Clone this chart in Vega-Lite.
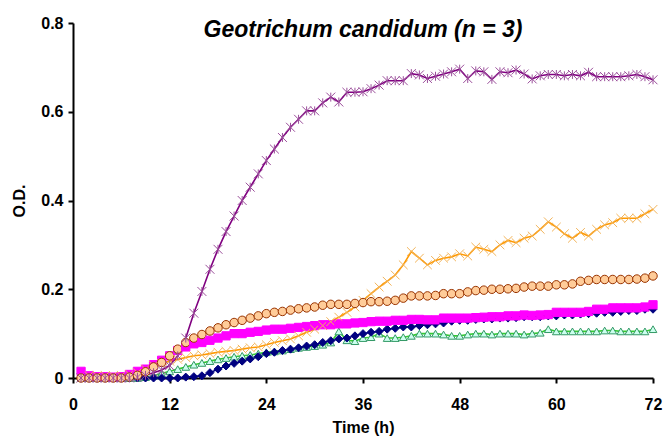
{
  "$schema": "https://vega.github.io/schema/vega-lite/v6.json",
  "width": 580,
  "height": 355,
  "autosize": {"type": "none"},
  "padding": {"left": 73, "top": 23, "right": 16, "bottom": 59},
  "background": "white",
  "title": {
    "text": "Geotrichum candidum  (n = 3)",
    "font": "Liberation Sans",
    "fontSize": 23,
    "fontWeight": "bold",
    "fontStyle": "italic",
    "color": "black",
    "anchor": "middle",
    "frame": "group",
    "baseline": "alphabetic",
    "offset": -14,
    "dy": 31
  },
  "config": {
    "view": {"stroke": null},
    "axis": {
      "grid": false,
      "domainColor": "black",
      "domainWidth": 2,
      "tickColor": "black",
      "tickWidth": 2,
      "tickSize": 5,
      "labelFont": "Liberation Sans",
      "labelFontWeight": "bold",
      "labelFontSize": 16,
      "labelColor": "black",
      "titleFont": "Liberation Sans",
      "titleFontWeight": "bold",
      "titleFontSize": 16,
      "titleColor": "black"
    }
  },
  "data": {
    "values": [
      {"t":1,"P":0.0,"O":0.0,"B":0.0,"M":0.015,"N":0.0,"G":0.0},
      {"t":2,"P":0.0,"O":0.005,"B":0.0,"M":0.005,"N":0.0,"G":0.0},
      {"t":3,"P":0.0,"O":0.005,"B":0.0,"M":0.003,"N":0.0,"G":0.0},
      {"t":4,"P":0.0,"O":0.005,"B":0.0,"M":0.003,"N":0.0,"G":0.0},
      {"t":5,"P":0.0,"O":0.005,"B":0.0,"M":0.002,"N":0.0,"G":0.0},
      {"t":6,"P":0.0,"O":0.005,"B":0.0,"M":0.003,"N":0.0,"G":0.0},
      {"t":7,"P":0.0,"O":0.008,"B":0.002,"M":0.008,"N":0.0,"G":0.0},
      {"t":8,"P":0.002,"O":0.012,"B":0.006,"M":0.015,"N":0.0,"G":0.0},
      {"t":9,"P":0.006,"O":0.02,"B":0.014,"M":0.02,"N":0.0,"G":0.002},
      {"t":10,"P":0.012,"O":0.028,"B":0.025,"M":0.03,"N":0.0,"G":0.005},
      {"t":11,"P":0.018,"O":0.033,"B":0.035,"M":0.04,"N":0.0,"G":0.01},
      {"t":12,"P":0.028,"O":0.038,"B":0.05,"M":0.05,"N":0.0,"G":0.015},
      {"t":13,"P":0.05,"O":0.042,"B":0.065,"M":0.062,"N":0.0,"G":0.02},
      {"t":14,"P":0.09,"O":0.046,"B":0.08,"M":0.07,"N":0.002,"G":0.025},
      {"t":15,"P":0.146,"O":0.05,"B":0.09,"M":0.077,"N":0.003,"G":0.03},
      {"t":16,"P":0.195,"O":0.052,"B":0.098,"M":0.08,"N":0.005,"G":0.034},
      {"t":17,"P":0.245,"O":0.055,"B":0.106,"M":0.085,"N":0.012,"G":0.038},
      {"t":18,"P":0.29,"O":0.058,"B":0.113,"M":0.09,"N":0.02,"G":0.042},
      {"t":19,"P":0.33,"O":0.06,"B":0.12,"M":0.095,"N":0.027,"G":0.045},
      {"t":20,"P":0.365,"O":0.062,"B":0.125,"M":0.1,"N":0.033,"G":0.048},
      {"t":21,"P":0.4,"O":0.065,"B":0.13,"M":0.1,"N":0.038,"G":0.05},
      {"t":22,"P":0.43,"O":0.068,"B":0.135,"M":0.103,"N":0.043,"G":0.052},
      {"t":23,"P":0.46,"O":0.07,"B":0.14,"M":0.105,"N":0.048,"G":0.055},
      {"t":24,"P":0.49,"O":0.075,"B":0.145,"M":0.108,"N":0.055,"G":0.058},
      {"t":25,"P":0.516,"O":0.08,"B":0.148,"M":0.11,"N":0.058,"G":0.06},
      {"t":26,"P":0.542,"O":0.084,"B":0.15,"M":0.11,"N":0.062,"G":0.062},
      {"t":27,"P":0.565,"O":0.088,"B":0.153,"M":0.112,"N":0.065,"G":0.065},
      {"t":28,"P":0.583,"O":0.095,"B":0.156,"M":0.114,"N":0.068,"G":0.068},
      {"t":29,"P":0.602,"O":0.103,"B":0.158,"M":0.116,"N":0.072,"G":0.07},
      {"t":30,"P":0.602,"O":0.11,"B":0.16,"M":0.118,"N":0.075,"G":0.072},
      {"t":31,"P":0.62,"O":0.118,"B":0.164,"M":0.12,"N":0.08,"G":0.075},
      {"t":32,"P":0.633,"O":0.127,"B":0.166,"M":0.12,"N":0.084,"G":0.08},
      {"t":33,"P":0.622,"O":0.137,"B":0.166,"M":0.122,"N":0.088,"G":0.105},
      {"t":34,"P":0.644,"O":0.148,"B":0.166,"M":0.122,"N":0.09,"G":0.085},
      {"t":35,"P":0.644,"O":0.16,"B":0.168,"M":0.124,"N":0.095,"G":0.083},
      {"t":36,"P":0.645,"O":0.175,"B":0.17,"M":0.125,"N":0.1,"G":0.09},
      {"t":37,"P":0.652,"O":0.19,"B":0.172,"M":0.127,"N":0.103,"G":0.092},
      {"t":38,"P":0.66,"O":0.205,"B":0.172,"M":0.128,"N":0.105,"G":0.1},
      {"t":39,"P":0.67,"O":0.218,"B":0.173,"M":0.128,"N":0.11,"G":0.09},
      {"t":40,"P":0.67,"O":0.232,"B":0.175,"M":0.13,"N":0.112,"G":0.09},
      {"t":41,"P":0.67,"O":0.255,"B":0.18,"M":0.13,"N":0.115,"G":0.092},
      {"t":42,"P":0.686,"O":0.285,"B":0.185,"M":0.132,"N":0.115,"G":0.095},
      {"t":43,"P":0.683,"O":0.27,"B":0.185,"M":0.132,"N":0.118,"G":0.1},
      {"t":44,"P":0.675,"O":0.255,"B":0.185,"M":0.131,"N":0.12,"G":0.1},
      {"t":45,"P":0.68,"O":0.265,"B":0.186,"M":0.131,"N":0.122,"G":0.1},
      {"t":46,"P":0.685,"O":0.27,"B":0.19,"M":0.135,"N":0.124,"G":0.098},
      {"t":47,"P":0.69,"O":0.273,"B":0.19,"M":0.135,"N":0.128,"G":0.095},
      {"t":48,"P":0.696,"O":0.28,"B":0.19,"M":0.135,"N":0.13,"G":0.095},
      {"t":49,"P":0.675,"O":0.275,"B":0.194,"M":0.135,"N":0.13,"G":0.098},
      {"t":50,"P":0.692,"O":0.295,"B":0.197,"M":0.136,"N":0.132,"G":0.1},
      {"t":51,"P":0.69,"O":0.29,"B":0.198,"M":0.137,"N":0.133,"G":0.1},
      {"t":52,"P":0.673,"O":0.285,"B":0.2,"M":0.138,"N":0.133,"G":0.098},
      {"t":53,"P":0.69,"O":0.3,"B":0.2,"M":0.138,"N":0.135,"G":0.1},
      {"t":54,"P":0.688,"O":0.31,"B":0.201,"M":0.14,"N":0.135,"G":0.1},
      {"t":55,"P":0.694,"O":0.305,"B":0.202,"M":0.14,"N":0.136,"G":0.1},
      {"t":56,"P":0.685,"O":0.315,"B":0.205,"M":0.142,"N":0.138,"G":0.098},
      {"t":57,"P":0.674,"O":0.32,"B":0.207,"M":0.141,"N":0.138,"G":0.1},
      {"t":58,"P":0.681,"O":0.335,"B":0.207,"M":0.142,"N":0.138,"G":0.102},
      {"t":59,"P":0.684,"O":0.352,"B":0.207,"M":0.143,"N":0.14,"G":0.11},
      {"t":60,"P":0.684,"O":0.34,"B":0.21,"M":0.148,"N":0.14,"G":0.105},
      {"t":61,"P":0.681,"O":0.325,"B":0.21,"M":0.148,"N":0.142,"G":0.105},
      {"t":62,"P":0.684,"O":0.315,"B":0.212,"M":0.148,"N":0.142,"G":0.105},
      {"t":63,"P":0.681,"O":0.328,"B":0.218,"M":0.148,"N":0.144,"G":0.105},
      {"t":64,"P":0.689,"O":0.32,"B":0.22,"M":0.15,"N":0.145,"G":0.105},
      {"t":65,"P":0.679,"O":0.335,"B":0.222,"M":0.155,"N":0.146,"G":0.105},
      {"t":66,"P":0.679,"O":0.345,"B":0.222,"M":0.155,"N":0.148,"G":0.107},
      {"t":67,"P":0.679,"O":0.35,"B":0.222,"M":0.158,"N":0.148,"G":0.107},
      {"t":68,"P":0.679,"O":0.36,"B":0.222,"M":0.158,"N":0.15,"G":0.105},
      {"t":69,"P":0.681,"O":0.36,"B":0.222,"M":0.158,"N":0.152,"G":0.105},
      {"t":70,"P":0.684,"O":0.36,"B":0.223,"M":0.158,"N":0.152,"G":0.105},
      {"t":71,"P":0.679,"O":0.37,"B":0.225,"M":0.16,"N":0.155,"G":0.105},
      {"t":72,"P":0.672,"O":0.38,"B":0.23,"M":0.165,"N":0.155,"G":0.11}
    ]
  },
  "transform": [{"fold": ["G", "N", "M", "O", "B", "P"], "as": ["s", "v"]}],
  "encoding": {
    "x": {
      "field": "t",
      "type": "quantitative",
      "scale": {"domain": [0, 72], "nice": false},
      "axis": {"values": [0, 12, 24, 36, 48, 60, 72], "title": "Time (h)", "labelPadding": 13, "titlePadding": 7, "labelFlush": false}
    },
    "y": {
      "field": "v",
      "type": "quantitative",
      "scale": {"domain": [0, 0.8], "nice": false},
      "axis": {"values": [0, 0.2, 0.4, 0.6, 0.8], "title": "O.D.", "labelPadding": 5, "titlePadding": 13, "labelFlush": false, "labelExpr": "datum.value == 0 ? '0' : format(datum.value, '.1f')"}
    }
  },
  "layer": [
    {
      "mark": {"type": "line", "strokeWidth": 1.6},
      "encoding": {
        "color": {
          "field": "s",
          "type": "nominal",
          "scale": {"domain": ["P", "O", "B", "M", "N", "G"], "range": ["#800080", "#ff9900", "#993300", "#ff00ff", "#000080", "#33cc33"]},
          "legend": null
        },
        "strokeWidth": {
          "field": "s",
          "type": "nominal",
          "scale": {"domain": ["P", "O", "B", "M", "N", "G"], "range": [2, 1.6, 1.4, 1.4, 1.4, 1.6]},
          "legend": null
        }
      }
    },
    {
      "mark": {"type": "point", "filled": true, "opacity": 1, "strokeWidth": 1},
      "encoding": {
        "shape": {
          "field": "s",
          "type": "nominal",
          "scale": {"domain": ["P", "O", "B", "M", "N", "G"], "range": ["M-1,-1L1,1M-1,1L1,-1M0,-1L0,1", "M-1,-1L1,1M-1,1L1,-1", "circle", "square", "diamond", "triangle-up"]},
          "legend": null
        },
        "size": {
          "field": "s",
          "type": "nominal",
          "scale": {"domain": ["P", "O", "B", "M", "N", "G"], "range": [80, 60, 62, 24, 40, 55]},
          "legend": null
        },
        "fill": {
          "field": "s",
          "type": "nominal",
          "scale": {"domain": ["P", "O", "B", "M", "N", "G"], "range": ["transparent", "transparent", "#ffcc99", "#ff00ff", "#000080", "#ccffee"]},
          "legend": null
        },
        "stroke": {
          "field": "s",
          "type": "nominal",
          "scale": {"domain": ["P", "O", "B", "M", "N", "G"], "range": ["#9b4f9b", "#f2b45a", "#993300", "#ff00ff", "#000080", "#339966"]},
          "legend": null
        }
      }
    }
  ]
}
